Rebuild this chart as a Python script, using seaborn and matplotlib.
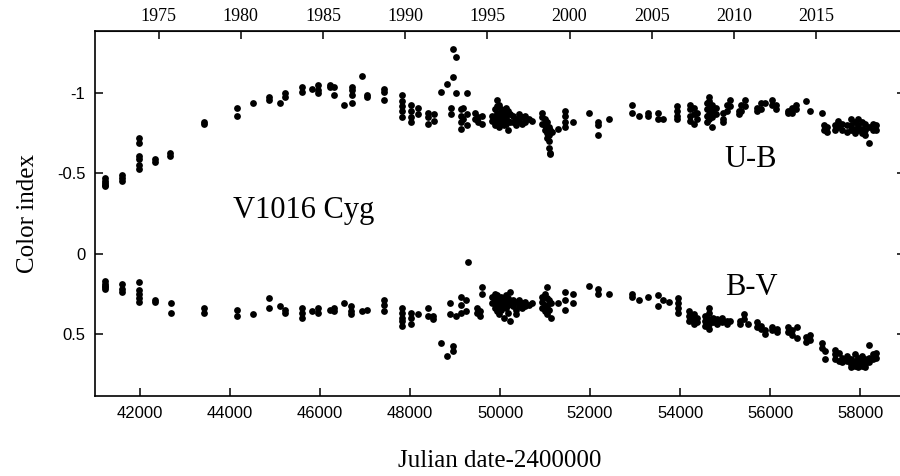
import matplotlib
matplotlib.use('Agg')
import matplotlib.pyplot as plt
import seaborn as sns
import pandas as pd

# U-B observations grouped by epoch (JD-2400000)
ub_epochs = [41230, 41600, 41985, 42333, 42670, 43420, 44160, 44515, 44870, 45111,
             45222, 45600, 45825, 45960, 46222, 46315, 46540, 46705, 46930, 47050,
             47425, 47825, 48020, 48178, 48390, 48525, 48689, 48815, 48900, 48955,
             49022, 49126, 49180, 49270, 49440, 49500, 49600, 49830, 49880, 49930,
             49980, 50030, 50080, 50130, 50180, 50230, 50290, 50350, 50420, 50480,
             50560, 50640, 50710, 50940, 50990, 51040, 51080, 51110, 51150, 51290,
             51444, 51620, 51980, 52178, 52420, 52926, 53090, 53280, 53510, 53620,
             53940, 54222, 54300, 54377, 54600, 54650, 54720, 54800, 54960, 55040,
             55110, 55300, 55360, 55450, 55720, 55800, 55880, 56050, 56130, 56400,
             56480, 56580, 56800, 56890, 57148, 57190, 57260, 57450, 57520, 57600,
             57720, 57800, 57880, 57960, 58040, 58120, 58200, 58280, 58360]
ub_groups = [[-0.47, -0.45, -0.44, -0.43, -0.42], [-0.49, -0.47, -0.45],
             [-0.72, -0.69, -0.61, -0.59, -0.55, -0.53], [-0.59, -0.57], [-0.63, -0.61],
             [-0.82, -0.81], [-0.91, -0.86], [-0.94], [-0.98, -0.96], [-0.94],
             [-1.00, -0.98], [-1.04, -1.01], [-1.03], [-1.05, -1.02, -1.00], [-1.05, -1.04],
             [-1.04, -0.99], [-0.93], [-1.04, -1.02, -0.99, -0.94], [-1.11], [-0.99, -0.98],
             [-1.03, -1.01, -0.96], [-0.99, -0.95, -0.92, -0.89, -0.85], [-0.93, -0.89, -0.85, -0.82],
             [-0.91, -0.87], [-0.88, -0.85, -0.81], [-0.87, -0.83], [-1.01], [-1.06],
             [-0.91, -0.87], [-1.28, -1.10], [-1.23, -1.00], [-0.90, -0.86, -0.82, -0.78],
             [-0.91, -0.84], [-1.00, -0.87, -0.80], [-0.88, -0.84], [-0.85, -0.82],
             [-0.86, -0.81], [-0.86, -0.83], [-0.90, -0.85, -0.80],
             [-0.96, -0.92, -0.88, -0.84, -0.81], [-0.93, -0.87, -0.83, -0.79],
             [-0.90, -0.86, -0.82], [-0.88, -0.84, -0.80], [-0.91, -0.85, -0.81],
             [-0.89, -0.83, -0.77], [-0.87, -0.82], [-0.86, -0.82], [-0.84, -0.80],
             [-0.87, -0.83], [-0.85, -0.81], [-0.86, -0.82], [-0.84], [-0.83],
             [-0.88, -0.85, -0.81], [-0.84, -0.80, -0.77], [-0.82, -0.78, -0.75, -0.72],
             [-0.79, -0.74, -0.70, -0.66], [-0.77, -0.63, -0.62], [-0.76], [-0.78],
             [-0.89, -0.86, -0.82, -0.79], [-0.82], [-0.88], [-0.82, -0.80, -0.74], [-0.84],
             [-0.93, -0.88], [-0.86], [-0.88, -0.86], [-0.88, -0.84], [-0.84],
             [-0.92, -0.89, -0.86, -0.84], [-0.93, -0.90, -0.86, -0.83], [-0.91, -0.87, -0.81],
             [-0.88, -0.84], [-0.94, -0.90, -0.86, -0.82], [-0.98, -0.95, -0.91, -0.87, -0.84],
             [-0.93, -0.89, -0.85, -0.79], [-0.91, -0.87], [-0.88, -0.84, -0.82], [-0.93, -0.89],
             [-0.96, -0.92], [-0.89, -0.87], [-0.93, -0.89], [-0.96, -0.92], [-0.91, -0.89],
             [-0.94, -0.90], [-0.94], [-0.96, -0.93], [-0.93, -0.90], [-0.89, -0.88],
             [-0.91, -0.88], [-0.93, -0.90], [-0.95], [-0.89], [-0.88], [-0.80, -0.77],
             [-0.79, -0.76], [-0.80, -0.77], [-0.83, -0.79], [-0.81, -0.77], [-0.80, -0.76],
             [-0.84, -0.80, -0.77], [-0.82, -0.78, -0.75], [-0.84, -0.80, -0.77],
             [-0.82, -0.78, -0.75], [-0.81, -0.77, -0.74], [-0.79, -0.69], [-0.81, -0.77],
             [-0.80, -0.77]]

# B-V observations grouped by epoch
bv_epochs = [41230, 41600, 41985, 42333, 42680, 43420, 44160, 44515, 44870, 45111,
             45222, 45605, 45830, 45960, 46222, 46318, 46540, 46690, 46930, 47050,
             47430, 47830, 48020, 48170, 48393, 48518, 48681, 48815, 48889, 48948,
             49015, 49126, 49240, 49282, 49480, 49560, 49590, 49830, 49880, 49930,
             49980, 50030, 50080, 50130, 50180, 50230, 50290, 50350, 50420, 50480,
             50560, 50640, 50710, 50940, 50990, 51040, 51080, 51130, 51290, 51444,
             51620, 51985, 52185, 52430, 52926, 53090, 53280, 53518, 53620, 53750,
             53948, 54200, 54300, 54380, 54560, 54650, 54740, 54820, 54940, 55040,
             55110, 55340, 55420, 55500, 55720, 55800, 55880, 56050, 56150, 56400,
             56480, 56600, 56790, 56880, 57160, 57220, 57450, 57530, 57600, 57720,
             57800, 57880, 57960, 58040, 58120, 58207, 58280, 58360]
bv_groups = [[0.17, 0.19, 0.20, 0.21, 0.22], [0.19, 0.22, 0.24], [0.18, 0.23, 0.25, 0.28, 0.30],
             [0.29, 0.30], [0.31, 0.37], [0.34, 0.37], [0.35, 0.39], [0.38], [0.28, 0.34],
             [0.33], [0.37, 0.35], [0.34, 0.37, 0.40], [0.36], [0.34, 0.37], [0.35],
             [0.34, 0.36], [0.31], [0.33, 0.36, 0.38], [0.36], [0.35], [0.29, 0.32, 0.36],
             [0.34, 0.37, 0.40, 0.42, 0.45], [0.37, 0.40, 0.44], [0.38], [0.34, 0.39],
             [0.39, 0.41], [0.56], [0.64], [0.31, 0.38], [0.58, 0.61], [0.39],
             [0.27, 0.32, 0.37], [0.29, 0.36], [0.05], [0.34, 0.37], [0.39, 0.36],
             [0.21, 0.25], [0.27, 0.31], [0.25, 0.29, 0.34], [0.26, 0.30, 0.33, 0.36],
             [0.28, 0.32, 0.38], [0.27, 0.31, 0.35], [0.29, 0.33, 0.40], [0.26, 0.30, 0.34],
             [0.28, 0.32, 0.37], [0.24, 0.31, 0.42], [0.29, 0.33], [0.30, 0.35, 0.38],
             [0.29, 0.33], [0.31, 0.34], [0.30, 0.33], [0.32], [0.31], [0.27, 0.30, 0.34],
             [0.25, 0.32, 0.36], [0.21, 0.28, 0.33, 0.38], [0.29, 0.35], [0.31, 0.40],
             [0.31], [0.24, 0.29, 0.35], [0.25, 0.31], [0.20], [0.22, 0.25], [0.25],
             [0.25, 0.27], [0.29], [0.27], [0.26, 0.33], [0.29], [0.30],
             [0.28, 0.31, 0.34, 0.37], [0.36, 0.39, 0.42], [0.38, 0.41, 0.44], [0.40, 0.43],
             [0.39, 0.42, 0.45], [0.34, 0.37, 0.41, 0.44, 0.47], [0.40, 0.43], [0.41, 0.44],
             [0.40, 0.43], [0.42, 0.44], [0.42], [0.42, 0.44], [0.38, 0.41], [0.44],
             [0.43, 0.46], [0.45, 0.47], [0.50, 0.48], [0.46, 0.48], [0.47, 0.49],
             [0.46, 0.49], [0.48, 0.51], [0.46, 0.53], [0.52, 0.55], [0.51, 0.54],
             [0.56, 0.59], [0.61, 0.66], [0.60, 0.63, 0.66], [0.62, 0.67], [0.65, 0.68],
             [0.64, 0.67], [0.66, 0.69, 0.71], [0.63, 0.67, 0.70], [0.65, 0.68, 0.71],
             [0.64, 0.67, 0.70], [0.66, 0.69, 0.71], [0.57, 0.65, 0.68], [0.63, 0.66],
             [0.62, 0.65]]

year_ticks = [1975, 1980, 1985, 1990, 1995, 2000, 2005, 2010, 2015]
y_ticks = [-1, -0.5, 0, 0.5]
x_ticks = [42000, 44000, 46000, 48000, 50000, 52000, 54000, 56000, 58000]


def expand(epochs, groups, name):
    rows = [(jd, v) for jd, g in zip(epochs, groups) for v in g]
    df = pd.DataFrame(rows, columns=['jd', 'value'])
    df['index'] = name
    return df


data = pd.concat([expand(ub_epochs, ub_groups, 'U-B'),
                  expand(bv_epochs, bv_groups, 'B-V')], ignore_index=True)

sns.set_style('ticks')
plt.rcParams['font.family'] = ['Liberation Sans', 'DejaVu Sans']
plt.rcParams['axes.unicode_minus'] = False
plt.rcParams['text.color'] = 'black'
plt.rcParams['axes.labelcolor'] = 'black'
plt.rcParams['xtick.color'] = 'black'
plt.rcParams['ytick.color'] = 'black'
serif = ['Liberation Serif', 'DejaVu Serif']

fig = plt.figure(figsize=(9, 4.76), dpi=100)
ax = fig.add_axes([0.1056, 0.168, 0.9, 0.767])

sns.scatterplot(data=data, x='jd', y='value', color='black', s=24, linewidth=0,
                legend=False, ax=ax)

ax.set_xlim(41000, 59000)
ax.set_ylim(0.89, -1.39)
ax.set_xticks(x_ticks)
ax.set_yticks(y_ticks)
ax.set_yticklabels(['%g' % t for t in y_ticks])
ax.tick_params(axis='both', direction='in', length=6, width=1.1, labelsize=12, pad=7,
               colors='black')
ax.tick_params(axis='y', right=True)
for sp in ax.spines.values():
    sp.set_linewidth(1.2)
    sp.set_color('black')

ax.set_xlabel('Julian date-2400000', family=serif, fontsize=18, labelpad=21, color='black')
ax.set_ylabel('Color index', family=serif, fontsize=18, labelpad=13, color='black')

# top axis in calendar years
def jd2yr(jd):
    return 2000 + (jd - 51544.5) / 365.25


def yr2jd(yr):
    return (yr - 2000) * 365.25 + 51544.5


top = ax.secondary_xaxis('top', functions=(jd2yr, yr2jd))
top.set_xticks(year_ticks)
top.tick_params(direction='in', length=6, width=1.1, pad=4, colors='black')
for lab in top.get_xticklabels():
    lab.set_family(serif)
    lab.set_fontsize(13)
    lab.set_color('black')

ax.text(45644, -0.27, 'V1016 Cyg', family=serif, fontsize=22, ha='center', va='center',
        color='black')
ax.text(55578, -0.59, 'U-B', family=serif, fontsize=22, ha='center', va='center',
        color='black')
ax.text(55578, 0.21, 'B-V', family=serif, fontsize=22, ha='center', va='center',
        color='black')

fig.savefig('out.png', dpi=100)
